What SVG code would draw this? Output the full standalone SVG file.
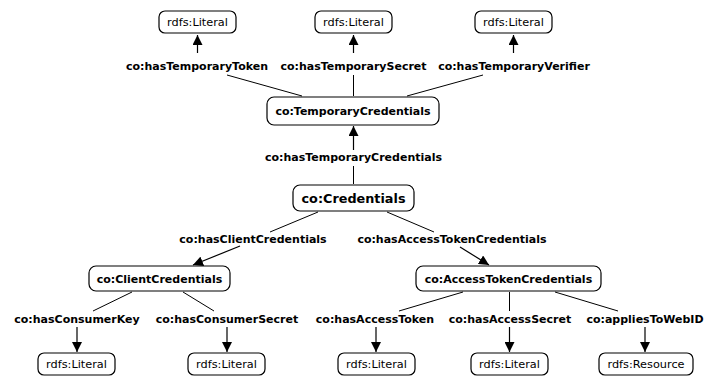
<svg xmlns="http://www.w3.org/2000/svg" width="722" height="377" viewBox="0 0 722 377">
<style>
.box{fill:#fff;stroke:#000;stroke-width:1.2}
.nt{font-family:"DejaVu Sans",Verdana,sans-serif;font-size:11px;font-weight:bold;text-anchor:middle;fill:#000}
.lt{font-family:"DejaVu Sans",Verdana,sans-serif;font-size:11.3px;text-anchor:middle;fill:#000}
.lab{font-family:"DejaVu Sans",Verdana,sans-serif;font-size:11px;font-weight:bold;text-anchor:middle;fill:#000}
.e{stroke:#000;stroke-width:1;fill:none}
.a{stroke:#000;stroke-width:1.2;fill:none;marker-end:url(#ah)}
</style>
<defs>
<marker id="ah" markerUnits="userSpaceOnUse" markerWidth="10" markerHeight="10" refX="10" refY="5" orient="auto" viewBox="0 0 10 10">
<path d="M0,0 L10,5 L0,10 z" fill="#000"/>
</marker>
</defs>
<rect width="722" height="377" fill="#fff"/>
<g id="connectors">
<path class="a" d="M197.5,53 V35"/>
<path class="a" d="M353.5,53 V35"/>
<path class="a" d="M513.5,53 V35"/>
<path class="e" d="M227,75 L302,96"/>
<path class="e" d="M353.5,75 V96"/>
<path class="e" d="M483,75 L407,96"/>
<path class="a" d="M353.5,150 V126"/>
<path class="e" d="M353.5,166 V184"/>
<path class="e" d="M318,212 L270,232"/>
<path class="a" d="M240,246 L193,265"/>
<path class="e" d="M387,212 L434,232"/>
<path class="a" d="M460,247 L489,265"/>
<path class="e" d="M132,292 L93,311"/>
<path class="e" d="M183,292 L214,311"/>
<path class="e" d="M463,292 L399,311"/>
<path class="e" d="M509.5,292 V311"/>
<path class="e" d="M555,292 L618,311"/>
<path class="a" d="M77,327 V352"/>
<path class="a" d="M227,327 V352"/>
<path class="a" d="M376,327 V352"/>
<path class="a" d="M509.5,327 V352"/>
<path class="a" d="M645,327 V352"/>
<text class="lab" x="197" y="70">co:hasTemporaryToken</text>
<text class="lab" x="353.5" y="70">co:hasTemporarySecret</text>
<text class="lab" x="514" y="70">co:hasTemporaryVerifier</text>
<text class="lab" x="353.5" y="161">co:hasTemporaryCredentials</text>
<text class="lab" x="253" y="243">co:hasClientCredentials</text>
<text class="lab" x="452" y="243">co:hasAccessTokenCredentials</text>
<text class="lab" x="77" y="323">co:hasConsumerKey</text>
<text class="lab" x="227" y="323">co:hasConsumerSecret</text>
<text class="lab" x="375" y="323">co:hasAccessToken</text>
<text class="lab" x="510" y="323">co:hasAccessSecret</text>
<text class="lab" x="645" y="323">co:appliesToWebID</text>
</g>
<g id="lit1"><rect class="box" x="159" y="11" width="77" height="22" rx="6"/><text class="lt" x="197.5" y="26">rdfs:Literal</text></g>
<g id="lit2"><rect class="box" x="315" y="11" width="77" height="22" rx="6"/><text class="lt" x="353.5" y="26">rdfs:Literal</text></g>
<g id="lit3"><rect class="box" x="475" y="11" width="77" height="22" rx="6"/><text class="lt" x="513.5" y="26">rdfs:Literal</text></g>
<g id="tempcred"><rect class="box" x="267" y="97" width="172" height="28" rx="7"/><text class="nt" x="353" y="115">co:TemporaryCredentials</text></g>
<g id="cred"><rect class="box" x="293" y="185" width="121" height="26" rx="7"/><text class="nt" x="353.5" y="203" style="font-size:13px" textLength="104" lengthAdjust="spacingAndGlyphs">co:Credentials</text></g>
<g id="clientcred"><rect class="box" x="89" y="266" width="141" height="25" rx="7"/><text class="nt" x="159.5" y="283">co:ClientCredentials</text></g>
<g id="accesscred"><rect class="box" x="416" y="266" width="185" height="25" rx="7"/><text class="nt" x="508.5" y="283">co:AccessTokenCredentials</text></g>
<g id="lit4"><rect class="box" x="38" y="353" width="77" height="22" rx="6"/><text class="lt" x="76.5" y="368">rdfs:Literal</text></g>
<g id="lit5"><rect class="box" x="188" y="353" width="77" height="22" rx="6"/><text class="lt" x="226.5" y="368">rdfs:Literal</text></g>
<g id="lit6"><rect class="box" x="338" y="353" width="77" height="22" rx="6"/><text class="lt" x="376.5" y="368">rdfs:Literal</text></g>
<g id="lit7"><rect class="box" x="471" y="353" width="77" height="22" rx="6"/><text class="lt" x="509.5" y="368">rdfs:Literal</text></g>
<g id="resource"><rect class="box" x="599" y="353" width="94" height="22" rx="6"/><text class="lt" x="646" y="368">rdfs:Resource</text></g>
</svg>
